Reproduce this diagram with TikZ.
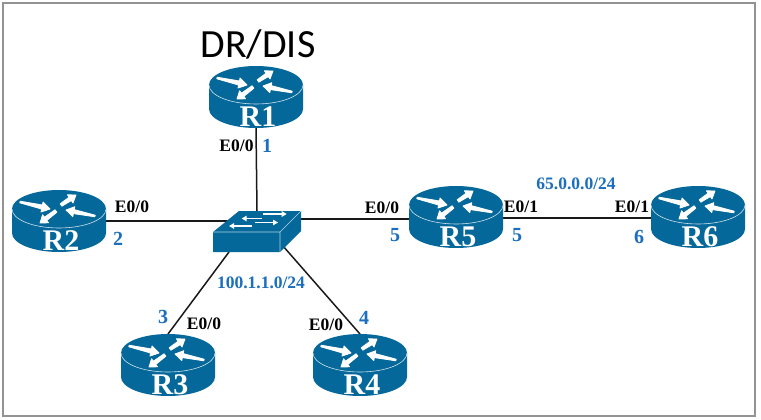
\documentclass[tikz,border=0pt]{standalone}
\usepackage{fontspec}
\setmainfont{Liberation Serif}
\newfontfamily\drfont{Carlito}
\usetikzlibrary{arrows.meta,calc}
\definecolor{ciscoblue}{HTML}{05689A}
\definecolor{lblblue}{HTML}{1B6FBD}
\tikzset{
  x=1pt,y=-1pt,
  box/.style={minimum width=94pt,minimum height=62pt,inner sep=0pt,outer sep=0pt},
  swbox/.style={minimum width=88pt,minimum height=41pt,inner sep=0pt,outer sep=0pt},
  link/.style={line width=1.5pt,black!90},
  rname/.style={text=white,font=\fontsize{30}{30}\selectfont\bfseries,inner sep=0pt},
  ifname/.style={text=black,font=\fontsize{17.5}{18}\selectfont\bfseries,inner sep=0pt},
  num/.style={text=lblblue,font=\fontsize{20}{20}\selectfont\bfseries,inner sep=0pt},
  net/.style={text=lblblue,font=\fontsize{17.5}{18}\selectfont\bfseries,inner sep=0pt},
  swflow/.style={white,line width=1.6pt,-{Triangle[width=5.5pt,length=5pt]}},
  flowshape/.style={fill=white,draw=white,line width=0.8pt,line join=round},
  router/.pic={
    \fill[ciscoblue] (-47,-12) -- (-47,12) arc[start angle=180,end angle=360,x radius=47pt,y radius=19pt] -- (47,-12) arc[start angle=0,end angle=180,x radius=47pt,y radius=19pt] -- cycle;
    \draw[white!80!ciscoblue,line width=0.6pt] (-47,-12) arc[start angle=180,end angle=360,x radius=47pt,y radius=19pt];
    \path[flowshape] (-39.2,-18.2) -- (-17.5,-12) -- (-18,-9) -- (-9,-12) -- (-16,-19) -- (-16.5,-16) -- (-38.8,-19.8) -- cycle;
    \path[flowshape] (2.8,-14.8) -- (12.3,-20.4) -- (14,-18) -- (17,-26) -- (8.4,-26.2) -- (10.1,-23.8) -- (1.2,-17.2) -- cycle;
    \path[flowshape] (36.2,-5.8) -- (15.2,-11.4) -- (15.8,-14.3) -- (7,-11) -- (13.8,-4.5) -- (14.4,-7.4) -- (35.8,-4.2) -- cycle;
    \path[flowshape] (-2.1,-8.8) -- (-12.2,-0.6) -- (-10.4,1.8) -- (-19,2) -- (-16.4,-6.2) -- (-14.6,-3.8) -- (-3.9,-11.2) -- cycle;
  }
}
\begin{document}
\begin{tikzpicture}
\useasboundingbox (0,0) rectangle (761,420);
\fill[white] (0,0) rectangle (761,420);
\draw[gray!85,line width=1.6pt] (3,3) rectangle (755,416);
% node frames
\node[box] (R1) at (256,97) {};
\node[box] (R2) at (59,221) {};
\node[box] (R3) at (168,365) {};
\node[box] (R4) at (360,365) {};
\node[box] (R5) at (456,217) {};
\node[box] (R6) at (698,217) {};
\node[swbox] (SW) at (257,231.5) {};
% connectors
\draw[link] (R1.south) -- (SW.north);
\draw[link] (R2.east) -- (R2.east -| SW.center);
\draw[link] ([yshift=-2pt]R5.west) -- ([yshift=-2pt]R5.west -| SW.center);
\draw[link] ([yshift=-1pt]R5.east) -- ([yshift=-1pt]R6.west);
\draw[link] (R3.north) -- ($(SW.south)+(-28,0)$);
\draw[link] (R4.north) -- ($(SW.south)+(26,-6)$);
% icons
\foreach \n in {R1,R2,R3,R4,R5,R6} { \pic at (\n) {router}; }
\begin{scope}[shift={(SW.center)}]
  \fill[ciscoblue] (-44,0.5) -- (-18,-20.5) -- (44,-20.5) -- (44,-0.5) -- (23,20.5) -- (-44,20.5) -- cycle;
  \draw[white!70!ciscoblue,line width=0.6pt] (-44,0.5) -- (23,0.5) -- (44,-20.5) (23,0.5) -- (23,20.5);
  \draw[swflow] (6.3,-17.5) -- (29.7,-17.5);
  \draw[swflow] (4.7,-13) -- (-15.3,-13);
  \draw[swflow] (-2,-9) -- (21,-9);
  \draw[swflow] (-5.3,-5.5) -- (-28,-5.5);
\end{scope}
% router names
\node[rname] (n1) at ($(R1)+(2,20)$) {R1};
\node[rname] (n2) at ($(R2)+(2,20)$) {R2};
\node[rname] (n3) at ($(R3)+(2,20)$) {R3};
\node[rname] (n4) at ($(R4)+(2,20)$) {R4};
\node[rname] (n5) at ($(R5)+(2,20)$) {R5};
\node[rname] (n6) at ($(R6)+(2,20)$) {R6};
% labels
\node[text=black,font=\drfont\fontsize{40}{40}\selectfont,inner sep=0pt] (dr) at (258,44) {DR/DIS};
\node[ifname] (a1) at (236.5,146) {E0/0};
\node[num] (b1) at (267,146) {1};
\node[ifname] (a2) at (132,207) {E0/0};
\node[num] (b2) at (118,239) {2};
\node[net] (c1) at (261,283) {100.1.1.0/24};
\node[num] (b3) at (163,317) {3};
\node[ifname] (a3) at (204,324) {E0/0};
\node[ifname] (a4) at (326,325) {E0/0};
\node[num] (b4) at (364,318) {4};
\node[ifname] (a5) at (382,208) {E0/0};
\node[num] (b5) at (395,235) {5};
\node[ifname] (a6) at (521,207) {E0/1};
\node[num] (b6) at (517,235) {5};
\node[net] (c2) at (576,184) {65.0.0.0/24};
\node[ifname] (a7) at (632,207) {E0/1};
\node[num] (b7) at (639,237) {6};
\end{tikzpicture}
\end{document}
